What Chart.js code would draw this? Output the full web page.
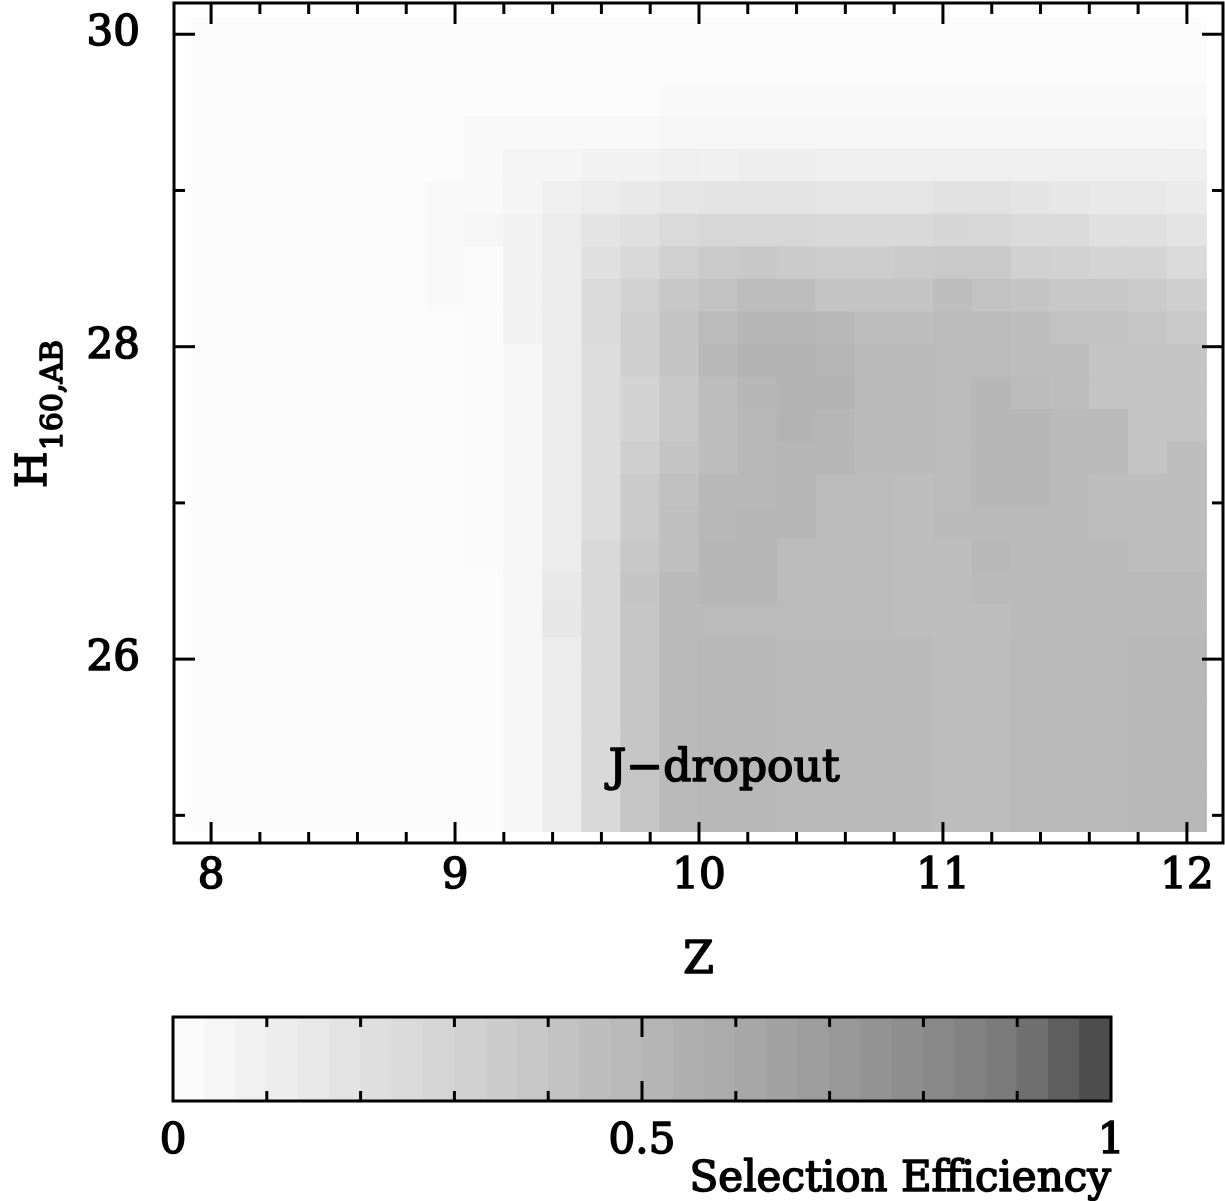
<!DOCTYPE html>
<html>
<head>
<meta charset="utf-8">
<script src="https://cdn.jsdelivr.net/npm/chart.js@4.4.1/dist/chart.umd.min.js"></script>
<style>
html, body { margin: 0; padding: 0; background: #fff; }
#wrap { position: relative; width: 1225px; height: 1201px; }
#main { position: absolute; left: 0; top: 0; }
#cbar { position: absolute; left: 0; top: 1000px; }
</style>
</head>
<body>
<div id="wrap">
<canvas id="main" width="1225" height="1000"></canvas>
<canvas id="cbar" width="1225" height="201"></canvas>
</div>
<script>
// ---------------- data ----------------
const zCenters = [8.00, 8.16, 8.32, 8.48, 8.64, 8.80, 8.96, 9.12, 9.28, 9.44, 9.60, 9.76, 9.92,
                  10.08, 10.24, 10.40, 10.56, 10.72, 10.88, 11.04, 11.20, 11.36, 11.52, 11.68, 11.84, 12.00];
const hCenters = [30.000, 29.792, 29.583, 29.375, 29.167, 28.958, 28.750, 28.542, 28.333, 28.125,
                  27.917, 27.708, 27.500, 27.292, 27.083, 26.875, 26.667, 26.458, 26.250, 26.042,
                  25.833, 25.625, 25.417, 25.208, 25.000];
const zBinWidth = 0.16;
const hBinHeight = 0.2083;

const xTickValues = [8, 9, 10, 11, 12];
const yTickValues = [25, 26, 27, 28, 29, 30];
const yLabelValues = [26, 28, 30];
const cbarLabelValues = [0, 0.5, 1];

// selection efficiency, one row per H160 bin (top row = H 30.0), one column per z bin
const efficiency = [
 [0.01,0.01,0.01,0.01,0.01,0.01,0.01,0.01,0.01,0.01,0.01,0.01,0.01,0.01,0.01,0.01,0.01,0.01,0.01,0.01,0.01,0.01,0.01,0.01,0.01,0.01],
 [0.01,0.01,0.01,0.01,0.01,0.01,0.01,0.01,0.01,0.01,0.01,0.01,0.01,0.01,0.01,0.01,0.01,0.01,0.01,0.01,0.01,0.01,0.01,0.01,0.01,0.01],
 [0.01,0.01,0.01,0.01,0.01,0.01,0.01,0.01,0.01,0.01,0.01,0.01,0.03,0.03,0.03,0.03,0.03,0.03,0.03,0.03,0.03,0.03,0.03,0.03,0.03,0.03],
 [0.01,0.01,0.01,0.01,0.01,0.01,0.01,0.03,0.03,0.03,0.03,0.03,0.05,0.05,0.05,0.05,0.05,0.05,0.05,0.05,0.05,0.05,0.05,0.05,0.05,0.05],
 [0.01,0.01,0.01,0.01,0.01,0.01,0.01,0.03,0.06,0.06,0.08,0.08,0.10,0.09,0.11,0.11,0.10,0.10,0.10,0.10,0.10,0.10,0.10,0.10,0.10,0.09],
 [0.01,0.01,0.01,0.01,0.01,0.01,0.03,0.03,0.06,0.10,0.12,0.14,0.17,0.18,0.18,0.18,0.17,0.17,0.17,0.19,0.19,0.18,0.16,0.14,0.14,0.13],
 [0.01,0.01,0.01,0.01,0.01,0.01,0.03,0.05,0.08,0.12,0.18,0.21,0.25,0.27,0.27,0.27,0.26,0.26,0.26,0.28,0.27,0.24,0.24,0.21,0.21,0.18],
 [0.01,0.01,0.01,0.01,0.01,0.01,0.03,0.02,0.08,0.12,0.21,0.26,0.32,0.36,0.38,0.36,0.34,0.34,0.36,0.37,0.37,0.32,0.31,0.29,0.29,0.25],
 [0.01,0.01,0.01,0.01,0.01,0.01,0.03,0.02,0.08,0.12,0.24,0.31,0.38,0.42,0.46,0.46,0.41,0.41,0.41,0.45,0.42,0.40,0.38,0.38,0.36,0.33],
 [0.01,0.01,0.01,0.01,0.01,0.01,0.01,0.02,0.08,0.12,0.24,0.33,0.40,0.47,0.50,0.50,0.49,0.45,0.45,0.47,0.47,0.45,0.42,0.42,0.39,0.37],
 [0.01,0.01,0.01,0.01,0.01,0.01,0.01,0.02,0.05,0.12,0.23,0.33,0.40,0.49,0.53,0.53,0.51,0.48,0.48,0.47,0.47,0.45,0.45,0.41,0.41,0.41],
 [0.01,0.01,0.01,0.01,0.01,0.01,0.01,0.02,0.05,0.12,0.23,0.30,0.38,0.46,0.50,0.53,0.53,0.48,0.48,0.47,0.50,0.47,0.45,0.41,0.41,0.41],
 [0.01,0.01,0.01,0.01,0.01,0.01,0.01,0.02,0.05,0.12,0.23,0.30,0.38,0.46,0.49,0.53,0.50,0.48,0.48,0.47,0.50,0.50,0.48,0.48,0.41,0.41],
 [0.01,0.01,0.01,0.01,0.01,0.01,0.01,0.02,0.05,0.12,0.23,0.33,0.40,0.46,0.49,0.50,0.50,0.48,0.48,0.47,0.50,0.50,0.48,0.48,0.41,0.45],
 [0.01,0.01,0.01,0.01,0.01,0.01,0.01,0.02,0.05,0.12,0.23,0.36,0.43,0.49,0.49,0.50,0.47,0.47,0.45,0.47,0.50,0.50,0.48,0.45,0.45,0.45],
 [0.01,0.01,0.01,0.01,0.01,0.01,0.01,0.02,0.05,0.12,0.23,0.36,0.44,0.49,0.50,0.50,0.47,0.47,0.45,0.48,0.48,0.48,0.48,0.45,0.45,0.45],
 [0.01,0.01,0.01,0.01,0.01,0.01,0.01,0.02,0.05,0.12,0.26,0.38,0.44,0.50,0.50,0.47,0.47,0.47,0.45,0.45,0.49,0.48,0.48,0.48,0.45,0.45],
 [0.01,0.01,0.01,0.01,0.01,0.01,0.01,0.01,0.05,0.15,0.26,0.40,0.48,0.50,0.50,0.47,0.47,0.47,0.45,0.45,0.48,0.48,0.48,0.48,0.48,0.48],
 [0.01,0.01,0.01,0.01,0.01,0.01,0.01,0.01,0.05,0.16,0.26,0.39,0.48,0.47,0.47,0.47,0.47,0.47,0.45,0.45,0.45,0.48,0.48,0.48,0.48,0.48],
 [0.01,0.01,0.01,0.01,0.01,0.01,0.01,0.01,0.05,0.12,0.26,0.39,0.48,0.49,0.49,0.48,0.48,0.48,0.48,0.46,0.46,0.48,0.48,0.48,0.49,0.49],
 [0.01,0.01,0.01,0.01,0.01,0.01,0.01,0.01,0.05,0.12,0.26,0.39,0.48,0.49,0.49,0.48,0.48,0.48,0.48,0.46,0.46,0.48,0.48,0.48,0.49,0.49],
 [0.01,0.01,0.01,0.01,0.01,0.01,0.01,0.01,0.05,0.12,0.26,0.39,0.48,0.49,0.49,0.48,0.48,0.48,0.48,0.46,0.46,0.48,0.48,0.48,0.49,0.49],
 [0.01,0.01,0.01,0.01,0.01,0.01,0.01,0.01,0.05,0.12,0.26,0.39,0.48,0.49,0.49,0.48,0.48,0.48,0.48,0.46,0.46,0.48,0.48,0.48,0.49,0.49],
 [0.01,0.01,0.01,0.01,0.01,0.01,0.01,0.01,0.05,0.12,0.26,0.39,0.48,0.49,0.49,0.48,0.48,0.48,0.48,0.46,0.46,0.48,0.48,0.48,0.49,0.49],
 [0.01,0.01,0.01,0.01,0.01,0.01,0.01,0.01,0.05,0.12,0.26,0.39,0.48,0.49,0.49,0.48,0.48,0.48,0.48,0.46,0.46,0.48,0.48,0.48,0.49,0.49]
];

// ---------------- colour map (grey scale) ----------------
const greyStops = [[0, 253], [0.6, 169], [0.7, 155], [0.8, 139], [0.9, 120], [1.0, 68]];
function grey(v) {
  v = Math.max(0, Math.min(1, v));
  let g = greyStops[greyStops.length - 1][1];
  for (let i = 0; i < greyStops.length - 1; i++) {
    const [v0, g0] = greyStops[i], [v1, g1] = greyStops[i + 1];
    if (v >= v0 && v <= v1) { g = g0 + (g1 - g0) * (v - v0) / (v1 - v0); break; }
  }
  g = Math.round(g);
  return 'rgb(' + g + ',' + g + ',' + g + ')';
}

const SERIF = '"DejaVu Serif", "Liberation Serif", serif';
const STROKE_W = 1.6;

function seg(ctx, x1, y1, x2, y2) { ctx.beginPath(); ctx.moveTo(x1, y1); ctx.lineTo(x2, y2); ctx.stroke(); }
function boldText(ctx, txt, x, y) {
  ctx.lineWidth = STROKE_W; ctx.strokeStyle = '#000'; ctx.lineJoin = 'round';
  ctx.strokeText(txt, x, y); ctx.fillText(txt, x, y);
}

// ---------------- main heat map ----------------
const heatDatasets = hCenters.map((h, j) => ({
  data: zCenters.map(z => ({ x: z, y: [h - hBinHeight / 2, h + hBinHeight / 2] })),
  backgroundColor: efficiency[j].map(grey),
  borderWidth: 0,
  barPercentage: 1,
  categoryPercentage: 1,
  grouped: false,
  inflateAmount: 0.5
}));

const mainDecor = {
  id: 'mainDecor',
  afterDatasetsDraw(chart) {
    const { ctx, chartArea: a, scales: { x, y } } = chart;
    ctx.save();
    ctx.strokeStyle = '#000';
    ctx.lineWidth = 3;
    ctx.lineCap = 'butt';
    // x ticks (minor every 0.2, major every 1), bottom and top, pointing inward
    for (let i = 0; i <= 20; i++) {
      const v = 8 + i * 0.2;
      const px = x.getPixelForValue(v);
      const len = (i % 5 === 0) ? 21 : 11;
      seg(ctx, px, a.bottom, px, a.bottom - len);
      seg(ctx, px, a.top, px, a.top + len);
    }
    // y ticks
    yTickValues.forEach(v => {
      const py = y.getPixelForValue(v);
      const len = (v % 2 === 0) ? 21 : 11;
      seg(ctx, a.left, py, a.left + len, py);
      seg(ctx, a.right, py, a.right - len, py);
    });
    ctx.strokeRect(a.left, a.top, a.right - a.left, a.bottom - a.top);

    ctx.fillStyle = '#000';
    // annotation
    ctx.font = '44px ' + SERIF;
    ctx.textAlign = 'left';
    ctx.textBaseline = 'alphabetic';
    boldText(ctx, 'J\u2212dropout', x.getPixelForValue(9.63), y.getPixelForValue(25.22));
    // x title
    ctx.textAlign = 'center';
    boldText(ctx, 'Z', (a.left + a.right) / 2, 973);
    // y title (rotated, with subscript)
    ctx.save();
    ctx.translate(46, 488);
    ctx.rotate(-Math.PI / 2);
    ctx.textAlign = 'left';
    ctx.font = '42px ' + SERIF;
    boldText(ctx, 'H', 0, 0);
    const w = ctx.measureText('H').width;
    ctx.font = '30px ' + SERIF;
    boldText(ctx, '160,AB', w + 1, 16);
    ctx.restore();
    ctx.restore();
  }
};

new Chart(document.getElementById('main'), {
  type: 'bar',
  data: { datasets: heatDatasets },
  options: {
    responsive: false,
    animation: false,
    devicePixelRatio: 1,
    layout: { padding: { top: 3, right: 2, left: 0, bottom: 0 } },
    plugins: { legend: { display: false }, tooltip: { enabled: false } },
    scales: {
      x: {
        type: 'linear', min: 7.848, max: 12.148, offset: false,
        grid: { display: false, drawTicks: false }, border: { display: false },
        afterBuildTicks: s => { s.ticks = xTickValues.map(v => ({ value: v })); },
        ticks: { autoSkip: false, maxRotation: 0, padding: 9, color: '#000',
                 textStrokeColor: '#000', textStrokeWidth: STROKE_W,
                 font: { family: SERIF, size: 42 }, callback: v => String(v) },
        afterFit: s => { s.height = 157; s.paddingLeft = 0; s.paddingRight = 0; }
      },
      y: {
        type: 'linear', min: 24.823, max: 30.2, offset: false,
        grid: { display: false, drawTicks: false }, border: { display: false },
        afterBuildTicks: s => { s.ticks = yTickValues.map(v => ({ value: v })); },
        ticks: { autoSkip: false, padding: 34, color: '#000',
                 textStrokeColor: '#000', textStrokeWidth: STROKE_W,
                 font: { family: SERIF, size: 42 },
                 callback: v => (yLabelValues.includes(v) ? String(v) : '') },
        afterFit: s => { s.width = 174; s.paddingTop = 0; s.paddingBottom = 0; }
      }
    }
  },
  plugins: [mainDecor]
});

// ---------------- colour bar ----------------
const cbarSteps = 30;
const cbarLevels = Array.from({ length: cbarSteps }, (_, i) => (i + 0.5) / cbarSteps);

const cbarDecor = {
  id: 'cbarDecor',
  afterDatasetsDraw(chart) {
    const { ctx, chartArea: a, scales: { x } } = chart;
    ctx.save();
    ctx.strokeStyle = '#000';
    ctx.lineWidth = 3;
    for (let i = 1; i <= 9; i++) {
      const px = x.getPixelForValue(i / 10);
      const len = (i === 5) ? 20 : 10;
      seg(ctx, px, a.top, px, a.top + len);
      seg(ctx, px, a.bottom, px, a.bottom - len);
    }
    ctx.strokeRect(a.left, a.top, a.right - a.left, a.bottom - a.top);
    ctx.fillStyle = '#000';
    ctx.font = '42px ' + SERIF;
    ctx.textAlign = 'right';
    ctx.textBaseline = 'alphabetic';
    boldText(ctx, 'Selection Efficiency', a.right, 191);
    ctx.restore();
  }
};

new Chart(document.getElementById('cbar'), {
  type: 'bar',
  data: {
    datasets: [{
      data: cbarLevels.map(v => ({ x: v, y: [0, 1] })),
      backgroundColor: cbarLevels.map(grey),
      borderWidth: 0, barPercentage: 1, categoryPercentage: 1, inflateAmount: 0.5
    }]
  },
  options: {
    responsive: false,
    animation: false,
    devicePixelRatio: 1,
    layout: { padding: { top: 17, right: 114, left: 173, bottom: 0 } },
    plugins: { legend: { display: false }, tooltip: { enabled: false } },
    scales: {
      x: {
        type: 'linear', min: 0, max: 1, offset: false,
        grid: { display: false, drawTicks: false }, border: { display: false },
        afterBuildTicks: s => { s.ticks = cbarLabelValues.map(v => ({ value: v })); },
        ticks: { autoSkip: false, maxRotation: 0, padding: 16, color: '#000',
                 textStrokeColor: '#000', textStrokeWidth: STROKE_W,
                 font: { family: SERIF, size: 42 }, callback: v => String(v) },
        afterFit: s => { s.height = 100; s.paddingLeft = 0; s.paddingRight = 0; }
      },
      y: { type: 'linear', min: 0, max: 1, display: false }
    }
  },
  plugins: [cbarDecor]
});
</script>
</body>
</html>
